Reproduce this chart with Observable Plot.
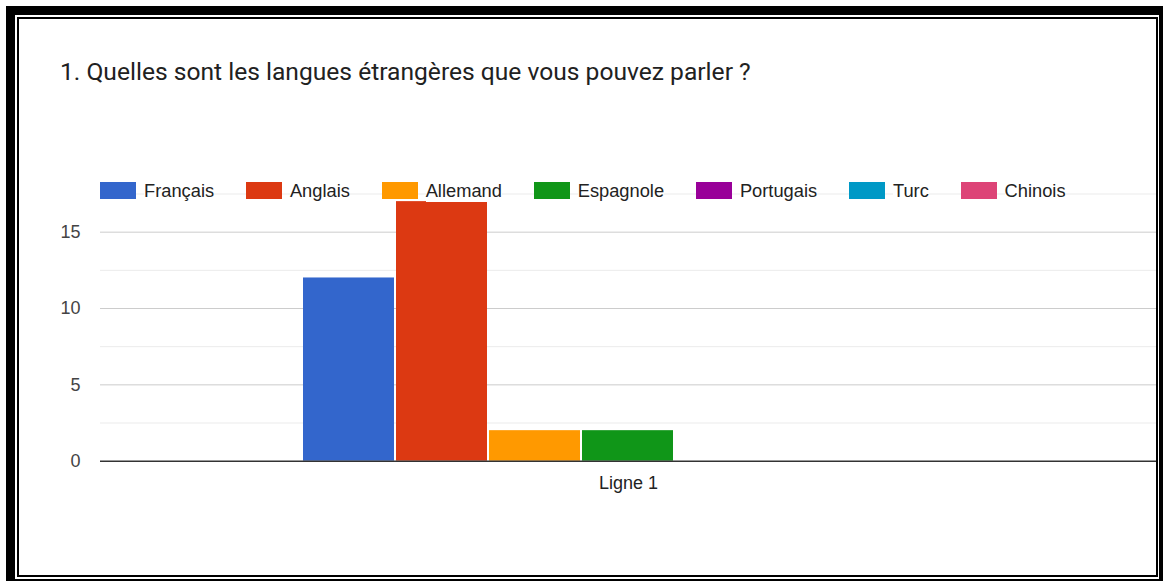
<!DOCTYPE html>
<html><head><meta charset="utf-8">
<script src="https://cdn.jsdelivr.net/npm/d3@7"></script>
<script src="https://cdn.jsdelivr.net/npm/@observablehq/plot@0.6"></script>
<style>
html,body{margin:0;padding:0;background:#fff;overflow:hidden;width:1163px;height:581px;}
#wrap{position:relative;width:1163px;height:581px;overflow:hidden;}
#chart{position:absolute;left:0;top:0;}
#title{position:absolute;left:60px;top:56.6px;font-family:Roboto,"Noto Sans",sans-serif;font-size:24.6px;line-height:29px;color:#212121;white-space:nowrap;}
#legend{position:absolute;left:100px;top:179.5px;display:flex;align-items:center;font-family:"Liberation Sans",Arial,sans-serif;font-size:18.3px;color:#222;white-space:nowrap;}
.item{display:flex;align-items:center;margin-right:31.8px;}
.sw{width:36px;height:17px;margin-right:8px;}
.lbl{background:#fff;}
#outer{position:absolute;left:6px;top:6px;width:1162px;height:582px;box-sizing:border-box;border:9px solid #000;}
#inner{position:absolute;left:17px;top:17px;width:1141px;height:560px;box-sizing:border-box;border:2px solid #000;}
</style>
</head>
<body>
<div id="wrap">
  <div id="chart"></div>
  <div id="title">1. Quelles sont les langues étrangères que vous pouvez parler ?</div>
  <div id="legend"></div>
  <div id="outer"></div>
  <div id="inner"></div>
</div>
<script>
// ---- data ----
const categories = ["Ligne 1"];
const languages = ["Français", "Anglais", "Allemand", "Espagnole", "Portugais", "Turc", "Chinois"];
const counts = [12, 17, 2, 2, 0, 0, 0];
const majorTicks = [0, 5, 10, 15];
const minorTicks = [2.5, 7.5, 12.5, 17.5];
const palette = ["#3366cc", "#dc3912", "#ff9900", "#109618", "#990099", "#0099c6", "#dd4477"];

const rows = languages.map((lang, i) => ({lang, value: counts[i], cat: categories[0]}));

// legend (HTML)
const legend = document.getElementById("legend");
languages.forEach((lang, i) => {
  const it = document.createElement("div");
  it.className = "item";
  const sw = document.createElement("div");
  sw.className = "sw";
  sw.style.background = palette[i];
  const lb = document.createElement("span");
  lb.className = "lbl";
  lb.textContent = lang;
  it.appendChild(sw); it.appendChild(lb);
  legend.appendChild(it);
});

const chart = Plot.plot({
  width: 1163,
  height: 581,
  marginLeft: 100,
  marginRight: 7,
  marginTop: 193.5,
  marginBottom: 120.3,
  style: {fontFamily: "'Liberation Sans', Arial, sans-serif", fontSize: "18px", color: "#444", background: "transparent"},
  x: {domain: languages, paddingInner: 0.0215, paddingOuter: 2.188, axis: null},
  y: {domain: [0, 17.5], axis: null},
  color: {domain: languages, range: palette},
  marks: [
    Plot.ruleY(minorTicks, {stroke: "#ebebeb", strokeWidth: 1}),
    Plot.ruleY(majorTicks.filter(d => d !== 0), {stroke: "#cccccc", strokeWidth: 1}),
    Plot.axisY({ticks: majorTicks, tickSize: 0, tickPadding: 20, label: null, fill: "#444"}),
    Plot.barY(rows, {x: "lang", y: "value", fill: "lang"}),
    Plot.ruleY([0], {stroke: "#333333", strokeWidth: 1.6}),
    Plot.text(categories, {text: d => d, frameAnchor: "bottom", dy: 28, fill: "#222", fontSize: 18})
  ]
});
document.getElementById("chart").appendChild(chart);
</script>
</body></html>
